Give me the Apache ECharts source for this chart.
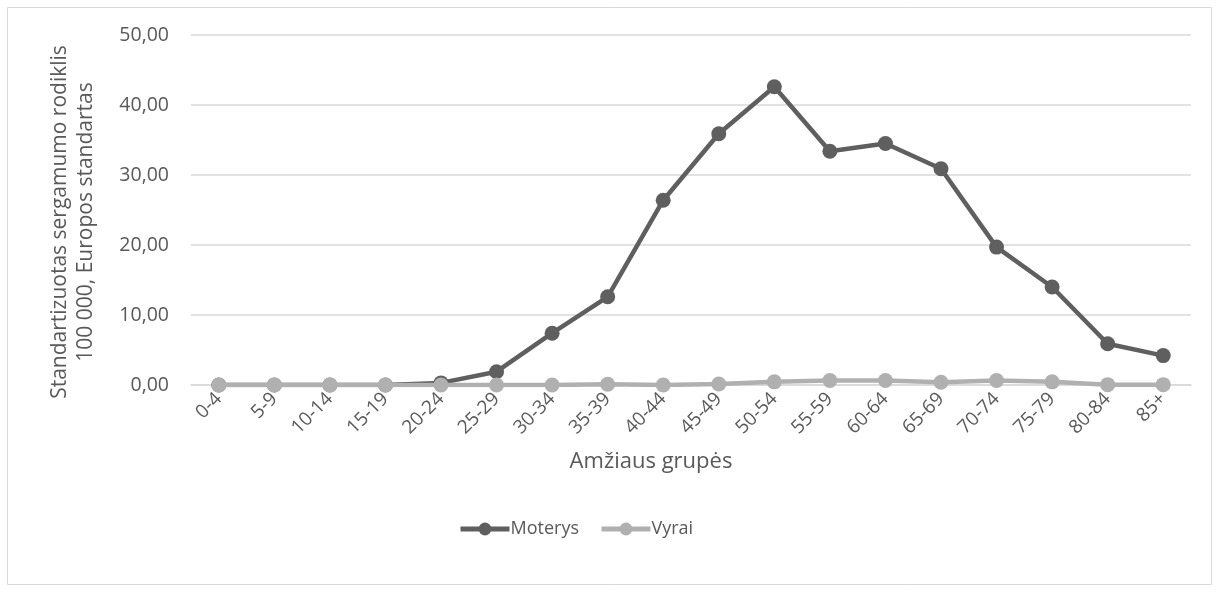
<!DOCTYPE html>
<html>
<head>
<meta charset="utf-8">
<script src="https://cdn.jsdelivr.net/npm/echarts@6/dist/echarts.min.js"></script>
<style>
  html, body { margin: 0; padding: 0; background: #ffffff; }
  #chart { width: 1219px; height: 592px; }
</style>
</head>
<body>
<div id="chart"></div>
<script>
// Age groups on the category axis
const ageGroups = ['0-4', '5-9', '10-14', '15-19', '20-24', '25-29', '30-34', '35-39', '40-44',
  '45-49', '50-54', '55-59', '60-64', '65-69', '70-74', '75-79', '80-84', '85+'];

// Standardised incidence rate per 100 000 (European standard)
const moterys = [0, 0, 0, 0, 0.3, 1.9, 7.4, 12.6, 26.4, 35.9, 42.6, 33.4, 34.5, 30.9, 19.7, 14.0, 5.9, 4.2];
const vyrai = [0, 0, 0, 0, 0, 0, 0, 0.1, 0, 0.15, 0.45, 0.65, 0.65, 0.4, 0.65, 0.45, 0.05, 0.05];

// Value axis ticks
const yTicks = [0, 10, 20, 30, 40, 50];

const seriesNames = ['Moterys', 'Vyrai'];
const axisNames = {
  y: 'Standartizuotas sergamumo rodiklis\n100 000, Europos standartas',
  x: 'Amžiaus grupės'
};

const FONT = '"Open Sans", "Noto Sans", sans-serif';
const TEXT = '#595959';
const GRID = '#d9d9d9';
const DARK = '#5f5f5f';
const LIGHT = '#b0b0b0';

const chart = echarts.init(document.getElementById('chart'), null, { renderer: 'canvas' });

chart.setOption({
  backgroundColor: '#ffffff',
  animation: false,
  textStyle: { fontFamily: FONT },
  graphic: [{
    type: 'rect',
    shape: { x: 7.5, y: 7.5, width: 1204, height: 577 },
    style: { fill: 'none', stroke: GRID, lineWidth: 1 },
    silent: true,
    z: -1
  }],
  grid: { left: 191, right: 28, top: 35, bottom: 207, containLabel: false },
  legend: {
    data: seriesNames,
    left: 458,
    top: 520,
    padding: 0,
    itemWidth: 49,
    itemHeight: 16,
    itemGap: 20,
    lineStyle: { width: 5 },
    textStyle: { fontFamily: FONT, fontSize: 18, color: TEXT, padding: [0, 0, 0, -4] }
  },
  xAxis: {
    type: 'category',
    data: ageGroups,
    boundaryGap: true,
    axisLine: { show: true, lineStyle: { color: GRID, width: 1.5 } },
    axisTick: { show: false },
    axisLabel: {
      rotate: 45,
      interval: 0,
      margin: 11,
      fontSize: 19,
      color: TEXT,
      fontFamily: FONT
    },
    name: axisNames.x,
    nameLocation: 'middle',
    nameGap: 66,
    nameTextStyle: { fontSize: 22, color: TEXT, fontFamily: FONT, padding: [0, 80, 0, 0] }
  },
  yAxis: {
    type: 'value',
    min: yTicks[0],
    max: yTicks[yTicks.length - 1],
    interval: yTicks[1] - yTicks[0],
    axisLine: { show: false },
    axisTick: { show: false },
    splitLine: { lineStyle: { color: GRID, width: 1.5 } },
    axisLabel: {
      margin: 22,
      fontSize: 19.5,
      color: TEXT,
      fontFamily: FONT,
      formatter: v => v.toFixed(2).replace('.', ',')
    },
    name: axisNames.y,
    nameLocation: 'middle',
    nameGap: 92,
    nameRotate: 90,
    nameTextStyle: {
      fontSize: 21, color: TEXT, fontFamily: FONT, lineHeight: 26, align: 'center',
      padding: [0, 24, 0, 0]
    }
  },
  series: [
    {
      name: seriesNames[0],
      type: 'line',
      data: moterys,
      symbol: 'circle',
      symbolSize: 15,
      z: 3,
      lineStyle: { color: DARK, width: 4.5 },
      itemStyle: { color: DARK }
    },
    {
      name: seriesNames[1],
      type: 'line',
      data: vyrai,
      symbol: 'circle',
      symbolSize: 15,
      z: 4,
      lineStyle: { color: LIGHT, width: 4.5 },
      itemStyle: { color: LIGHT }
    }
  ]
});
</script>
</body>
</html>
